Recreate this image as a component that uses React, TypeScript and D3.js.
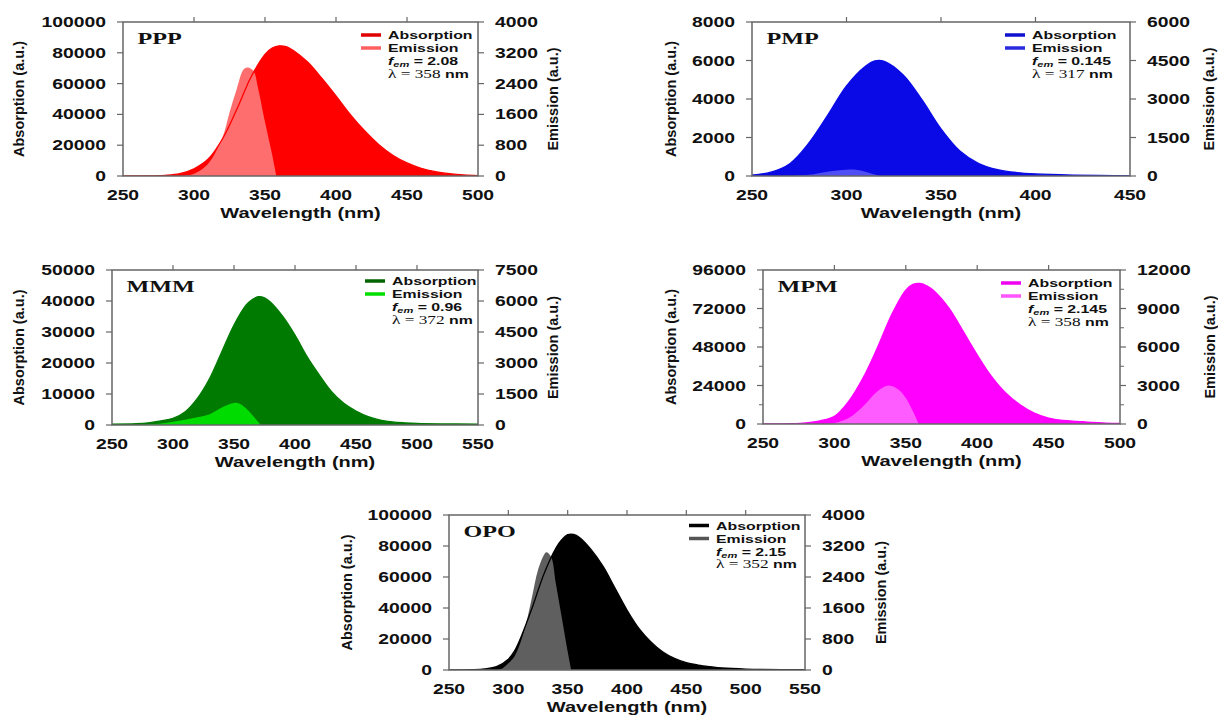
import React from "react";
import * as d3 from "d3";

// ---------- DATA ----------
// PPP
const pppWl = [250, 270, 280, 290, 300, 310, 320, 330, 340, 350, 355, 360, 365, 370, 380, 390, 400, 410, 420, 430, 440, 450, 460, 470, 480, 490, 500];
const pppAbs = [0, 100, 400, 1500, 4700, 11000, 24000, 43000, 64000, 79000, 83000, 84500, 84000, 81500, 74000, 63500, 52000, 40000, 29500, 20500, 13500, 8500, 5000, 2800, 1500, 700, 300];
const pppEmWl = [290, 300, 310, 320, 325, 330, 335, 338, 342, 345, 350, 355, 358];
const pppEm = [0, 60, 320, 1000, 1650, 2250, 2770, 2820, 2720, 2300, 1400, 560, 0];
const pppXTicks = [250, 300, 350, 400, 450, 500];
const pppYTicks = [0, 20000, 40000, 60000, 80000, 100000];
const pppY2Ticks = [0, 800, 1600, 2400, 3200, 4000];

// PMP
const pmpWl = [250, 260, 270, 280, 290, 300, 310, 315, 320, 330, 340, 350, 360, 370, 380, 390, 400, 420, 450];
const pmpAbs = [50, 200, 640, 1700, 3150, 4680, 5700, 5980, 5960, 5250, 3950, 2450, 1300, 650, 330, 180, 110, 50, 10];
const pmpEmWl = [265, 280, 290, 300, 305, 310, 315, 318];
const pmpEm = [0, 50, 170, 245, 240, 170, 60, 0];
const pmpXTicks = [250, 300, 350, 400, 450];
const pmpYTicks = [0, 2000, 4000, 6000, 8000];
const pmpY2Ticks = [0, 1500, 3000, 4500, 6000];

// MMM
const mmmWl = [250, 270, 280, 290, 300, 310, 320, 330, 340, 350, 360, 365, 370, 375, 380, 390, 400, 410, 420, 430, 440, 450, 460, 470, 480, 490, 500, 520, 550];
const mmmAbs = [300, 400, 700, 1300, 2150, 4300, 8600, 15000, 23650, 32250, 38700, 40500, 41400, 41000, 39600, 35000, 29000, 22000, 16100, 10750, 7000, 4500, 2700, 1600, 1000, 700, 500, 350, 300];
const mmmEmWl = [270, 280, 290, 300, 310, 320, 330, 340, 350, 355, 360, 365, 372];
const mmmEm = [0, 20, 70, 160, 260, 370, 520, 850, 1070, 1020, 800, 480, 0];
const mmmXTicks = [250, 300, 350, 400, 450, 500, 550];
const mmmYTicks = [0, 10000, 20000, 30000, 40000, 50000];
const mmmY2Ticks = [0, 1500, 3000, 4500, 6000, 7500];

// MPM
const mpmWl = [250, 270, 280, 290, 300, 310, 320, 330, 340, 350, 355, 360, 365, 370, 380, 390, 400, 410, 420, 430, 440, 450, 460, 470, 480, 490, 500];
const mpmAbs = [0, 200, 700, 2000, 4770, 14100, 28600, 47300, 68000, 83500, 87000, 87600, 86000, 82800, 72500, 58000, 43100, 29650, 19300, 12000, 6840, 3730, 2280, 1660, 1000, 600, 400];
const mpmEmWl = [290, 300, 310, 320, 330, 338, 345, 350, 355, 359];
const mpmEm = [0, 78, 466, 1370, 2540, 3000, 2670, 2020, 985, 0];
const mpmXTicks = [250, 300, 350, 400, 450, 500];
const mpmYTicks = [0, 24000, 48000, 72000, 96000];
const mpmYMinor = [12000, 36000, 60000, 84000];
const mpmY2Ticks = [0, 3000, 6000, 9000, 12000];
const mpmY2Minor = [1500, 4500, 7500, 10500];

// OPO
const opoWl = [250, 270, 280, 290, 300, 305, 310, 320, 330, 340, 345, 350, 355, 360, 370, 380, 390, 400, 410, 420, 430, 440, 450, 460, 470, 480, 500, 550];
const opoAbs = [0, 200, 700, 2150, 7000, 12000, 20000, 40000, 62000, 78500, 84000, 87300, 87500, 85500, 77500, 66700, 52700, 38700, 26900, 18300, 11800, 7500, 4700, 3200, 2150, 1300, 600, 200];
const opoEmWl = [290, 295, 300, 305, 310, 315, 320, 325, 330, 332, 336, 340, 345, 350, 353];
const opoEm = [0, 40, 172, 344, 688, 1204, 1892, 2580, 2968, 3036, 2924, 2240, 1360, 480, 0];
const opoXTicks = [250, 300, 350, 400, 450, 500, 550];
const opoYTicks = [0, 20000, 40000, 60000, 80000, 100000];
const opoY2Ticks = [0, 800, 1600, 2400, 3200, 4000];

// ---------- STYLE / LAYOUT ----------
const SX = 1.38;
const SANS = "'Liberation Sans', Arial, sans-serif";
const SERIF = "'Liberation Serif', 'Times New Roman', serif";
const FRAME = "#666";

type Cfg = {
  name: string; wl: number[]; abs: number[]; emWl: number[]; em: number[];
  xTicks: number[]; yTicks: number[]; y2Ticks: number[]; yMinor?: number[]; y2Minor?: number[];
  fem: string; lam: string; absColor: string; emColor: string; absLeg: string; emLeg: string;
  L: number; R: number; T: number; B: number; ylo: number; yro: number; legX: number; legY: number;
};

const panels: Cfg[] = [
  { name: "PPP", wl: pppWl, abs: pppAbs, emWl: pppEmWl, em: pppEm, xTicks: pppXTicks, yTicks: pppYTicks, y2Ticks: pppY2Ticks,
    fem: "2.08", lam: "358", absColor: "#ff0000", emColor: "#ff6e6e", absLeg: "#e00000", emLeg: "#ff6060",
    L: 123, R: 478, T: 22, B: 176, ylo: 99, yro: 80, legX: 90, legY: 17 },
  { name: "PMP", wl: pmpWl, abs: pmpAbs, emWl: pmpEmWl, em: pmpEm, xTicks: pmpXTicks, yTicks: pmpYTicks, y2Ticks: pmpY2Ticks,
    fem: "0.145", lam: "317", absColor: "#0a0ae6", emColor: "#4f4ff5", absLeg: "#1010d0", emLeg: "#2a2ae0",
    L: 752, R: 1130, T: 22, B: 176, ylo: 76, yro: 84, legX: 98, legY: 17 },
  { name: "MMM", wl: mmmWl, abs: mmmAbs, emWl: mmmEmWl, em: mmmEm, xTicks: mmmXTicks, yTicks: mmmYTicks, y2Ticks: mmmY2Ticks,
    fem: "0.96", lam: "372", absColor: "#007a00", emColor: "#00dc00", absLeg: "#006400", emLeg: "#00dd00",
    L: 112, R: 478, T: 270, B: 425, ylo: 88, yro: 80, legX: 86, legY: 15 },
  { name: "MPM", wl: mpmWl, abs: mpmAbs, emWl: mpmEmWl, em: mpmEm, xTicks: mpmXTicks, yTicks: mpmYTicks, y2Ticks: mpmY2Ticks,
    yMinor: mpmYMinor, y2Minor: mpmY2Minor,
    fem: "2.145", lam: "358", absColor: "#ff00ff", emColor: "#ff5cff", absLeg: "#f000f0", emLeg: "#ff55ff",
    L: 763, R: 1120, T: 270, B: 424, ylo: 87, yro: 95, legX: 92, legY: 17 },
  { name: "OPO", wl: opoWl, abs: opoAbs, emWl: opoEmWl, em: opoEm, xTicks: opoXTicks, yTicks: opoYTicks, y2Ticks: opoY2Ticks,
    fem: "2.15", lam: "352", absColor: "#000000", emColor: "#5f5f5f", absLeg: "#000000", emLeg: "#555555",
    L: 449, R: 805, T: 515, B: 670, ylo: 97, yro: 81, legX: 89, legY: 14.5 },
];

function SText(props: { x: number; y: number; anchor?: string; size: number; weight?: string; family?: string; dy?: string; children: React.ReactNode }) {
  const { x, y, anchor = "start", size, weight = "bold", family = SANS, dy, children } = props;
  return (
    <text transform={`translate(${x},${y}) scale(${SX},1)`} textAnchor={anchor as any} fontSize={size}
      fontWeight={weight} fontFamily={family} dy={dy} fill="#111">
      {children}
    </text>
  );
}

const curve = d3.curveCatmullRom.alpha(0.5);

function Panel({ c, idx }: { c: Cfg; idx: number }) {
  const xd = [c.xTicks[0], c.xTicks[c.xTicks.length - 1]];
  const x = d3.scaleLinear().domain(xd).range([c.L, c.R]);
  const y = d3.scaleLinear().domain([c.yTicks[0], c.yTicks[c.yTicks.length - 1]]).range([c.B, c.T]);
  const y2 = d3.scaleLinear().domain([c.y2Ticks[0], c.y2Ticks[c.y2Ticks.length - 1]]).range([c.B, c.T]);
  const absPts: [number, number][] = c.wl.map((w, i) => [w, c.abs[i]]);
  const emPts: [number, number][] = c.emWl.map((w, i) => [w, c.em[i]]);
  const absArea = d3.area<[number, number]>().x(d => x(d[0])).y0(c.B).y1(d => y(d[1])).curve(curve);
  const absLine = d3.line<[number, number]>().x(d => x(d[0])).y(d => y(d[1])).curve(curve);
  const emArea = d3.area<[number, number]>().x(d => x(d[0])).y0(c.B).y1(d => y2(d[1])).curve(curve);
  const clipId = `clip${idx}`;
  const tx = c.R - c.legX;
  const ly = c.T + c.legY;
  const midY = (c.T + c.B) / 2;
  return (
    <g>
      <clipPath id={clipId}><rect x={c.L} y={c.T} width={c.R - c.L} height={c.B - c.T} /></clipPath>
      <g clipPath={`url(#${clipId})`}>
        <path d={absArea(absPts) || ""} fill={c.absColor} />
        <path d={emArea(emPts) || ""} fill={c.emColor} />
        <path d={absLine(absPts) || ""} fill="none" stroke={c.absColor} strokeWidth={1.3} />
      </g>
      <rect x={c.L} y={c.T} width={c.R - c.L} height={c.B - c.T} fill="none" stroke={FRAME} strokeWidth={1.5} />
      {c.xTicks.slice(1, -1).map(t => (
        <line key={"tt" + t} x1={x(t)} x2={x(t)} y1={c.T} y2={c.T - 5} stroke={FRAME} strokeWidth={1.2} />
      ))}
      {c.xTicks.map(t => (
        <SText key={"xl" + t} x={x(t)} y={c.B + 24} anchor="middle" size={14}>{String(t)}</SText>
      ))}
      <SText x={(c.L + c.R) / 2} y={c.B + 42} anchor="middle" size={14.5}>Wavelength (nm)</SText>
      {c.yTicks.map(t => (
        <g key={"yl" + t}>
          <line x1={c.L} x2={c.L - 6} y1={y(t)} y2={y(t)} stroke={FRAME} strokeWidth={1.2} />
          <SText x={c.L - 17} y={y(t)} anchor="end" size={14} dy="0.36em">{String(t)}</SText>
        </g>
      ))}
      {(c.yMinor || []).map(t => (
        <line key={"ym" + t} x1={c.L} x2={c.L - 4} y1={y(t)} y2={y(t)} stroke={FRAME} strokeWidth={1} />
      ))}
      {c.y2Ticks.map(t => (
        <g key={"yr" + t}>
          <line x1={c.R} x2={c.R + 6} y1={y2(t)} y2={y2(t)} stroke={FRAME} strokeWidth={1.2} />
          <SText x={c.R + 17} y={y2(t)} anchor="start" size={14} dy="0.36em">{String(t)}</SText>
        </g>
      ))}
      {(c.y2Minor || []).map(t => (
        <line key={"y2m" + t} x1={c.R} x2={c.R + 4} y1={y2(t)} y2={y2(t)} stroke={FRAME} strokeWidth={1} />
      ))}
      <text transform={`translate(${c.L - c.ylo},${midY}) rotate(-90)`} textAnchor="middle" fontSize={14.5}
        fontWeight="bold" fontFamily={SANS} fill="#111">Absorption (a.u.)</text>
      <text transform={`translate(${c.R + c.yro},${midY}) rotate(-90)`} textAnchor="middle" fontSize={14.5}
        fontWeight="bold" fontFamily={SANS} fill="#111">Emission (a.u.)</text>
      <SText x={c.L + 14.5} y={c.T + 21.5} size={17.5} family={SERIF}>{c.name}</SText>
      <line x1={tx - 27} x2={tx - 7} y1={ly - 4} y2={ly - 4} stroke={c.absLeg} strokeWidth={3.5} />
      <SText x={tx} y={ly} size={11.5}>Absorption</SText>
      <line x1={tx - 27} x2={tx - 7} y1={ly + 13 - 4} y2={ly + 13 - 4} stroke={c.emLeg} strokeWidth={3.5} />
      <SText x={tx} y={ly + 13} size={11.5}>Emission</SText>
      <SText x={tx} y={ly + 26} size={11.5}>
        <tspan fontStyle="italic">f</tspan>
        <tspan fontStyle="italic" fontSize={8} dy={2}>em</tspan>
        <tspan dy={-2}>{` = ${c.fem}`}</tspan>
      </SText>
      <SText x={tx} y={ly + 38.5} size={11.5}>
        <tspan fontFamily={SERIF} fontWeight="normal" fontSize={12.5}>{`λ = ${c.lam}`}</tspan>
        <tspan>{" nm"}</tspan>
      </SText>
    </g>
  );
}

export default function App() {
  return (
    <svg width={1218} height={716} style={{ position: "absolute", left: 0, top: 0, background: "#fff" }}>
      <rect x={0} y={0} width={1218} height={716} fill="#fff" />
      {panels.map((c, i) => <Panel key={c.name} c={c} idx={i} />)}
    </svg>
  );
}
